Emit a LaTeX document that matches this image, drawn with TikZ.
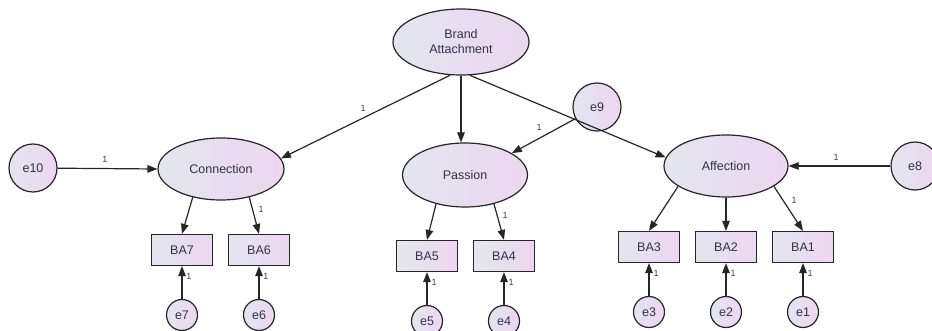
\documentclass[tikz,border=0pt]{standalone}
\usepackage{fontspec}
\setmainfont{Liberation Sans}
\usetikzlibrary{arrows.meta,shapes.geometric}
\definecolor{gl}{HTML}{E2E6EE}
\definecolor{gr}{HTML}{EDD6F1}
\definecolor{txt}{HTML}{2E3350}
\definecolor{lbl}{HTML}{3A4060}
\begin{document}
\begin{tikzpicture}[x=1pt,y=-1pt,
  base/.style={draw=black!85,line width=1.2pt,left color=gl,right color=gr,text=txt,font=\fontsize{12.5}{15}\selectfont,inner sep=0pt,align=center},
  latent/.style={base,ellipse,minimum width=#1,minimum height=62pt},
  latent/.default=124pt,
  obs/.style={base,rectangle,minimum width=61pt,minimum height=31pt},
  err/.style={base,circle,minimum size=#1},
  err/.default=31pt,
  conn/.style={line width=1.2pt,draw=black!85,-{Triangle[length=10pt,width=7.5pt]}},
  one/.style={text=lbl,font=\fontsize{9}{9}\selectfont,inner sep=0pt}]
\useasboundingbox (0,0) rectangle (932,331);
% latent variables
\node[latent=136pt,minimum height=66pt] (ba) at (461,42) {Brand\\Attachment};
\node[latent=126pt] (con) at (221,169) {Connection};
\node[latent=125pt,minimum height=64pt] (pas) at (465,175) {Passion};
\node[latent] (aff) at (726,166) {Affection};
% disturbances
\node[err=48pt] (e10) at (33,168) {e10};
\node[err=48pt] (e9) at (597,107) {e9};
\node[err=48pt] (e8) at (915,166) {e8};
% observed
\node[obs] (ba7) at (182,250) {BA7};
\node[obs] (ba6) at (259,250) {BA6};
\node[obs] (ba5) at (427,256) {BA5};
\node[obs] (ba4) at (504,256) {BA4};
\node[obs] (ba3) at (649,247) {BA3};
\node[obs] (ba2) at (726,247) {BA2};
\node[obs] (ba1) at (803,247) {BA1};
% errors
\node[err] (e7) at (182,315) {e7};
\node[err] (e6) at (259,315) {e6};
\node[err] (e5) at (427,321) {e5};
\node[err] (e4) at (504,321) {e4};
\node[err] (e3) at (649,312) {e3};
\node[err] (e2) at (726,312) {e2};
\node[err] (e1) at (803,312) {e1};
% structural paths
\draw[conn] (ba.-108) -- (con.10);
\draw[conn] (ba.south) -- (ba.south |- pas.north);
\draw[conn] (ba.-75) -- (aff.172);
\draw[conn] (e9) -- (pas.25);
\draw[conn] (e10) -- (con.west);
\draw[conn] (e8) -- (aff.east);
% measurement paths
\draw[conn] (con.225) -- (ba7.north);
\draw[conn] (con.-45) -- (ba6.north);
\draw[conn] (pas.225) -- (ba5.north);
\draw[conn] (pas.-45) -- (ba4.north);
\draw[conn] (aff.203) -- (ba3.north);
\draw[conn] (aff.south) -- (ba2.north);
\draw[conn] (aff.-23) -- (ba1.north);
% error paths
\draw[conn] (e7) -- (ba7);
\draw[conn] (e6) -- (ba6);
\draw[conn] (e5) -- (ba5);
\draw[conn] (e4) -- (ba4);
\draw[conn] (e3) -- (ba3);
\draw[conn] (e2) -- (ba2);
\draw[conn] (e1) -- (ba1);
% labels
\node[one] (l1) at (363,108) {1};
\node[one] (l2) at (105,159) {1};
\node[one] (l3) at (539,127) {1};
\node[one] (l4) at (836,157) {1};
\node[one] (l5) at (261,209) {1};
\node[one] (l6) at (505,215) {1};
\node[one] (l7) at (794,200) {1};
\node[one] (l8) at (189,276) {1};
\node[one] (l9) at (266,276) {1};
\node[one] (l10) at (434,282) {1};
\node[one] (l11) at (511,282) {1};
\node[one] (l12) at (656,273) {1};
\node[one] (l13) at (733,273) {1};
\node[one] (l14) at (810,273) {1};
\end{tikzpicture}
\end{document}
